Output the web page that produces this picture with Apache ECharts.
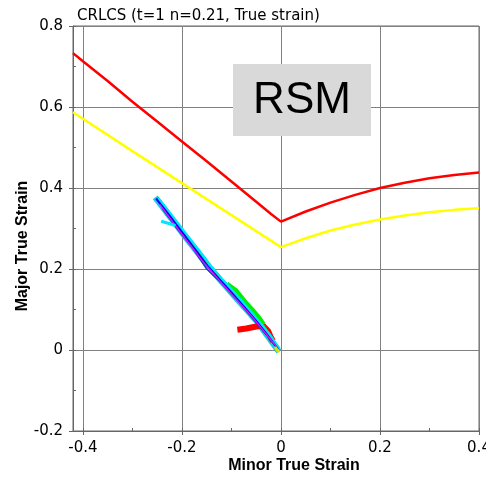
<!DOCTYPE html>
<html>
<head>
<meta charset="utf-8">
<script src="https://cdn.jsdelivr.net/npm/echarts@6/dist/echarts.min.js"></script>
<style>html,body{margin:0;padding:0;background:#fff}#c{width:486px;height:484px}</style>
</head>
<body>
<div id="c"></div>
<script>
// Forming limit curves
const redFLC = [[-0.42,0.733],[-0.4,0.713],[-0.35,0.664],[-0.3,0.613],[-0.25,0.564],[-0.2,0.515],[-0.15,0.466],[-0.1,0.416],[-0.05,0.366],[-0.02,0.336],[0,0.317],[0.05,0.342],[0.1,0.364],[0.15,0.383],[0.2,0.4],[0.25,0.413],[0.3,0.424],[0.35,0.432],[0.4,0.438]];
const yellowFLC = [[-0.42,0.587],[-0.3,0.491],[-0.2,0.412],[-0.1,0.333],[0,0.254],[0.05,0.276],[0.1,0.295],[0.15,0.31],[0.2,0.322],[0.25,0.332],[0.3,0.34],[0.35,0.346],[0.4,0.35]];
// Strain paths
const pathBand = [[-0.254,0.377],[-0.2,0.29],[-0.149,0.21],[-0.102,0.144],[-0.048,0.07],[-0.004,-0.004]];
const pathBlue = [[-0.252,0.374],[-0.225,0.332],[-0.198,0.288],[-0.172,0.246],[-0.148,0.207],[-0.124,0.174],[-0.1,0.142],[-0.074,0.106],[-0.05,0.072],[-0.028,0.038],[-0.006,0.002]];
const pathCyan = [[-0.248,0.375],[-0.22,0.332],[-0.193,0.289],[-0.166,0.247],[-0.142,0.208],[-0.118,0.174],[-0.094,0.142],[-0.07,0.108],[-0.046,0.073],[-0.024,0.04],[-0.003,0.003]];
const pathMagenta = [[-0.245,0.36],[-0.215,0.31],[-0.19,0.27],[-0.16,0.222],[-0.13,0.18],[-0.1,0.138],[-0.06,0.085],[-0.03,0.04],[-0.01,0.01]];
const pathGreen = [[-0.25,0.376],[-0.23,0.345],[-0.2,0.296],[-0.17,0.25],[-0.14,0.203],[-0.11,0.16],[-0.09,0.14],[-0.07,0.112],[-0.05,0.082],[-0.035,0.058],[-0.02,0.032],[-0.004,0.0]];
const pathGreen2 = [[-0.11,0.162],[-0.092,0.146],[-0.075,0.12],[-0.058,0.097],[-0.045,0.078],[-0.036,0.062]];
const pathNavy = [[-0.24,0.35],[-0.21,0.3],[-0.18,0.255],[-0.15,0.2],[-0.12,0.165],[-0.09,0.125],[-0.06,0.082],[-0.035,0.045],[-0.012,0.012]];
const pathRed = [[-0.088,0.05],[-0.07,0.053],[-0.05,0.058],[-0.036,0.06],[-0.026,0.047],[-0.02,0.03],[-0.016,0.022]];
const pathYellow = [[-0.012,0.008],[-0.004,-0.006]];
const branchCyan = [[-0.242,0.318],[-0.228,0.313],[-0.213,0.307]];

const xTicks = [-0.4,-0.2,0,0.2,0.4];
const yTicks = [-0.2,0,0.2,0.4,0.6,0.8];

const chart = echarts.init(document.getElementById('c'));
const tickFont = {fontFamily:'DejaVu Sans', fontSize:15, color:'#000'};
function ln(data, color, w, z) {
  return {type:'line', data, xAxisIndex:0, yAxisIndex:0, showSymbol:false, symbol:'none', silent:true,
    lineStyle:{color, width:w}, z:z||3, animation:false};
}
chart.setOption({
  animation:false,
  title:{text:'CRLCS (t=1 n=0.21, True strain)', left:72, top:4,
    textStyle:{fontFamily:'DejaVu Sans', fontSize:15, fontWeight:'normal', color:'#000'}},
  grid:{left:73, right:7, top:26, bottom:53, outerBoundsMode:'none', containLabel:false, show:true, borderColor:'#666', borderWidth:1, backgroundColor:'transparent'},
  xAxis:[{type:'value', min:-0.42, max:0.4, splitNumber:4,
    axisLine:{onZero:false, lineStyle:{color:'#666', width:1}},
    axisTick:{show:true, length:4, lineStyle:{color:'#666'}},
    axisLabel:{...tickFont, margin:10, showMinLabel:false, formatter:v=>xTicks.includes(Math.round(v*10)/10)? String(Math.round(v*10)/10):''},
    splitLine:{show:true, lineStyle:{color:'#808080', width:1}}},
   {type:'value', min:-0.42, max:0.4, splitNumber:8, position:'bottom',
    axisLine:{show:false, onZero:false}, axisLabel:{show:false}, splitLine:{show:false},
    axisTick:{show:true, inside:true, length:3, lineStyle:{color:'#666'}}}],
  yAxis:[{type:'value', min:-0.2, max:0.8, interval:0.2,
    axisLine:{show:true, onZero:false, lineStyle:{color:'#666', width:1}},
    axisTick:{show:true, length:4, lineStyle:{color:'#666'}},
    axisLabel:{...tickFont, margin:10, formatter:v=>String(Math.round(v*10)/10)},
    splitLine:{show:true, lineStyle:{color:'#808080', width:1}}},
   {type:'value', min:-0.2, max:0.8, interval:0.1, position:'left',
    axisLine:{show:false, onZero:false}, axisLabel:{show:false}, splitLine:{show:false},
    axisTick:{show:true, inside:true, length:3, lineStyle:{color:'#666'}}}],
  graphic:[
    {type:'rect', shape:{x:233, y:64, width:138, height:72}, style:{fill:'#d9d9d9'}, z:100},
    {type:'text', x:302, y:101, style:{text:'RSM', fontFamily:'Liberation Sans', fontSize:44, fill:'#000', textAlign:'center', textVerticalAlign:'middle'}, z:101},
    {type:'text', x:23, y:246, rotation:Math.PI/2, style:{text:'Major True Strain', fontFamily:'Liberation Sans', fontWeight:'bold', fontSize:16, fill:'#000', textAlign:'center', textVerticalAlign:'middle'}, z:101},
    {type:'text', x:294, y:466, style:{text:'Minor True Strain', fontFamily:'Liberation Sans', fontWeight:'bold', fontSize:16, fill:'#000', textAlign:'center', textVerticalAlign:'middle'}, z:101}
  ],
  series:[
    ln(redFLC,'#ff0000',2.5),
    ln(yellowFLC,'#ffff00',2.5),
    ln(pathBand,'#20c8e8',6,2),
    ln(pathGreen,'#00e000',3),
    ln(pathGreen2,'#00ee00',6),
    ln(pathCyan,'#00e5ff',2.5),
    ln(pathBlue,'#0000ff',2),
    ln(pathNavy,'#1040c0',1.5),
    ln(pathMagenta,'#ff00ff',1.2),
    ln(branchCyan,'#00e5ff',3),
    ln(pathRed,'#ff0000',6,2),
    ln(pathYellow,'#e0e000',3)
  ]
});
</script>
</body>
</html>
